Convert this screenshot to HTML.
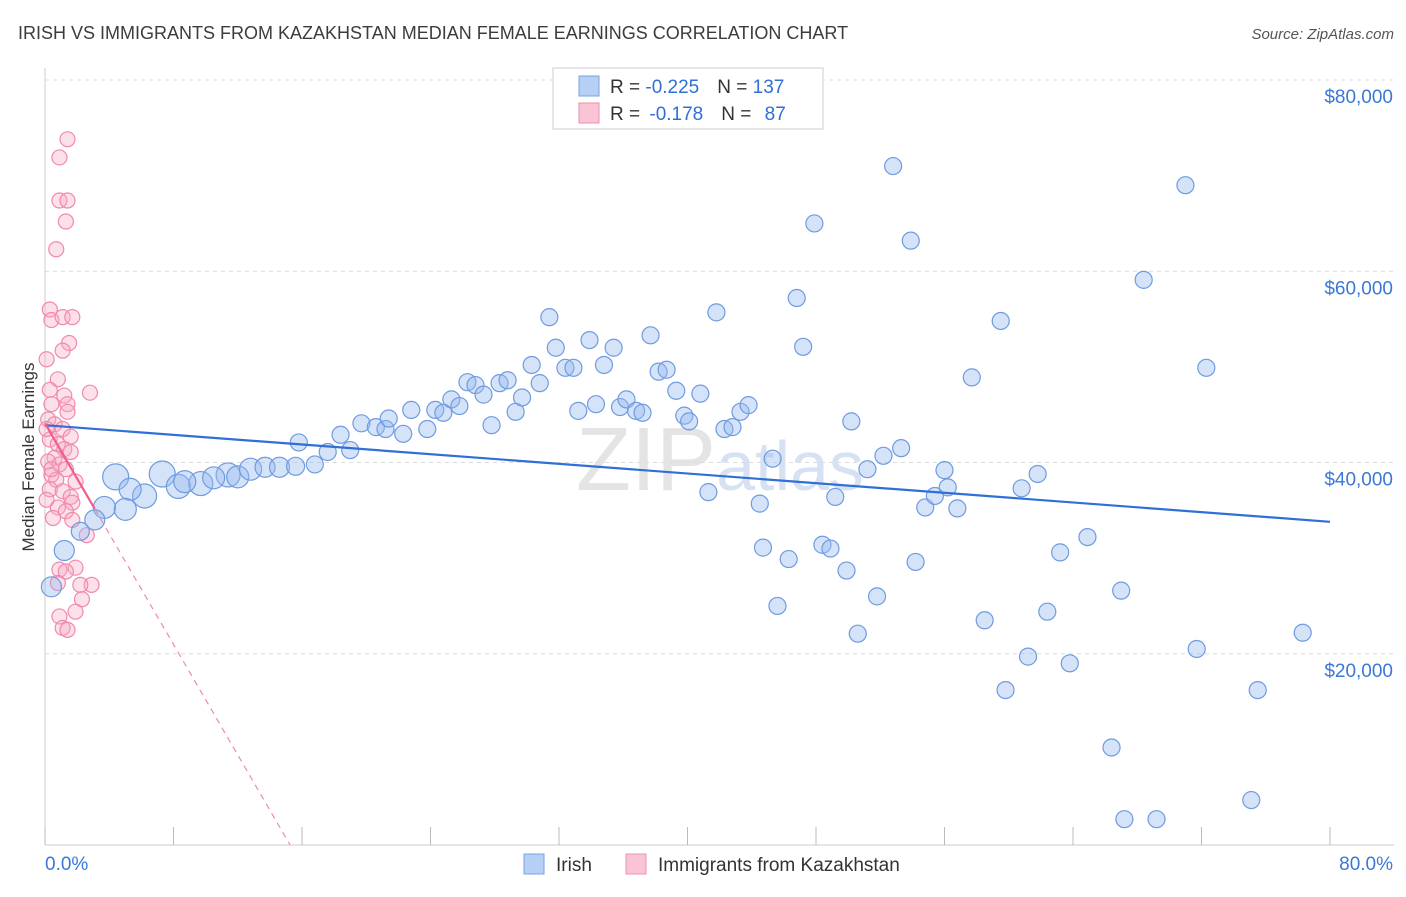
<!DOCTYPE html>
<html><head><meta charset="utf-8">
<style>
body{margin:0;background:#fff;font-family:"Liberation Sans",sans-serif;}
svg text{font-family:"Liberation Sans",sans-serif;}
</style></head>
<body>
<svg id="chart" width="1406" height="892" viewBox="0 0 1406 892" xmlns="http://www.w3.org/2000/svg">
<text x="18" y="39" font-size="18" fill="#3c3c3c">IRISH VS IMMIGRANTS FROM KAZAKHSTAN MEDIAN FEMALE EARNINGS CORRELATION CHART</text>
<text x="1394" y="39" font-size="15" fill="#555" text-anchor="end" font-style="italic">Source: ZipAtlas.com</text>
<text x="720" y="490" font-size="90" fill="#e4e4e4" text-anchor="middle" font-family="Liberation Serif">ZIP<tspan fill="#d6e2f3" font-family="Liberation Sans" font-size="70">atlas</tspan></text>
<g id="grid"></g>
<g id="axes"></g>
<g id="marks"></g>
<text transform="translate(34,457) rotate(-90)" font-size="17" fill="#333" text-anchor="middle">Median Female Earnings</text>
<g>
<rect x="553" y="68" width="270" height="61" fill="#fff" stroke="#ccc"/>
<rect x="579" y="76" width="20" height="20" fill="#b5cff5" stroke="#7aa3e3"/>
<rect x="579" y="103" width="20" height="20" fill="#f9c4d4" stroke="#ee8fae"/>
<text x="610" y="93" font-size="19" fill="#333">R = <tspan fill="#2f6fd6">-0.225</tspan><tspan dx="18">N = </tspan><tspan fill="#2f6fd6">137</tspan></text>
<text x="610" y="120" font-size="19" fill="#333">R = <tspan dx="4" fill="#2f6fd6">-0.178</tspan><tspan dx="18">N = </tspan><tspan dx="8" fill="#2f6fd6">87</tspan></text>
</g>
<g>
<rect x="524" y="854" width="20" height="20" fill="#b5cff5" stroke="#7aa3e3"/>
<text x="556" y="871" font-size="19" fill="#333">Irish</text>
<rect x="626" y="854" width="20" height="20" fill="#f9c4d4" stroke="#ee8fae"/>
<text x="658" y="871" font-size="19" fill="#333">Immigrants from Kazakhstan</text>
</g>
</svg>
<script>
const xTicks=[0,8,16,24,32,40,48,56,64,72,80];
const yTicks=[20000,40000,60000,80000];
const yTickLabels=["$20,000","$40,000","$60,000","$80,000"];
const xEndLabels=["0.0%","80.0%"];
const irishX=[4.4,7.3,6.2,5.3,8.3,9.7,8.7,11.4,12.0,10.5,12.8,13.7,14.6,15.6,3.7,5.0,3.1,1.2,0.4,2.2,15.8,16.8,17.6,18.4,19.0,19.7,20.6,21.2,21.4,22.3,22.8,23.8,24.3,24.8,25.3,25.8,26.3,26.8,27.3,27.8,28.3,28.8,29.3,29.7,30.3,30.8,31.4,31.8,32.4,32.9,33.2,33.9,34.3,34.8,35.4,35.8,36.2,36.8,37.2,37.7,38.2,38.7,39.3,39.8,40.1,40.8,41.3,41.8,42.3,42.8,43.3,43.8,44.5,44.7,45.3,45.6,46.3,46.8,47.2,47.9,48.4,48.9,49.2,49.9,50.2,50.6,51.2,51.8,52.2,52.8,53.3,53.9,54.2,54.8,55.4,56.0,56.2,56.8,57.7,58.5,59.5,59.8,60.8,61.2,61.8,62.4,63.2,63.8,64.9,66.4,67.0,67.2,68.4,69.2,71.0,71.7,72.3,75.1,75.5,78.3];
const irishY=[38.5,38.8,36.5,37.2,37.5,37.8,38.0,38.7,38.5,38.4,39.3,39.5,39.5,39.6,35.3,35.1,34.0,30.8,27.0,32.8,42.1,39.8,41.1,42.9,41.3,44.1,43.7,43.5,44.6,43.0,45.5,43.5,45.5,45.2,46.6,45.9,48.4,48.1,47.1,43.9,48.3,48.6,45.3,46.8,50.2,48.3,55.2,52.0,49.9,49.9,45.4,52.8,46.1,50.2,52.0,45.8,46.6,45.4,45.2,53.3,49.5,49.7,47.5,44.9,44.3,47.2,36.9,55.7,43.5,43.7,45.3,46.0,35.7,31.1,40.4,25.0,29.9,57.2,52.1,65.0,31.4,31.0,36.4,28.7,44.3,22.1,39.3,26.0,40.7,71.0,41.5,63.2,29.6,35.3,36.5,39.2,37.4,35.2,48.9,23.5,54.8,16.2,37.3,19.7,38.8,24.4,30.6,19.0,32.2,10.2,26.6,2.7,59.1,2.7,69.0,20.5,49.9,4.7,16.2,22.2];
const irishSize=[13,13,12,11,12,12,11,12,11,11,11,10,10,9,11,11,10,10,10,9];
const kazX=[1.4,0.9,0.9,1.4,1.3,0.7,0.3,0.4,1.1,1.7,1.5,1.1,0.1,0.8,2.8,0.3,1.2,0.4,1.4,1.4,0.2,0.6,1.1,1.6,0.3,0.8,1.2,0.6,1.6,0.2,0.9,1.3,0.4,0.7,1.9,0.3,1.1,1.6,0.1,1.7,0.8,1.3,0.5,1.7,2.6,0.9,1.9,1.3,2.9,2.2,0.8,2.3,0.9,1.9,1.1,1.4,0.1,0.4];
const kazY=[73.8,71.9,67.4,67.4,65.2,62.3,56.0,54.9,55.2,55.2,52.5,51.7,50.8,48.7,47.3,47.6,47.0,46.1,46.1,45.3,44.5,44.0,43.5,42.7,42.4,41.9,41.4,40.5,41.1,40.1,39.8,39.3,38.7,38.2,38.0,37.2,37.0,36.4,36.1,35.8,35.3,34.9,34.2,34.0,32.4,28.8,29.0,28.6,27.2,27.2,27.4,25.7,23.9,24.4,22.7,22.5,43.5,39.3];
const irishTrend=[43.9,33.8];
const kazTrend=[44.1,-2.89];
const kazSolidEnd=3.1;

const NS="http://www.w3.org/2000/svg";
const X0=45,X1=1330,Y0=845,Y80=80;
const sx=v=>X0+(v/80)*(X1-X0);
const sy=v=>Y0-(v/80000)*(Y0-Y80);
function mk(tag,attrs,parent){const e=document.createElementNS(NS,tag);for(const k in attrs)e.setAttribute(k,attrs[k]);parent.appendChild(e);return e;}
const grid=document.getElementById('grid'),axes=document.getElementById('axes'),marks=document.getElementById('marks');
yTicks.forEach((t,i)=>{
 const l=mk('line',{x1:X0,x2:1394,y1:sy(t),y2:sy(t),stroke:'#dcdcdc','stroke-dasharray':'4,4'},grid);
 
 
 const tx=mk('text',{x:1393,y:sy(t)+23,'font-size':19,fill:'#3a78d8','text-anchor':'end'},axes);
 tx.textContent=yTickLabels[i];
 
 
});
const ax=mk('line',{x1:X0,x2:1394,y1:Y0,y2:Y0,stroke:'#ccc'},axes);


const ay=mk('line',{x1:X0,x2:X0,y1:68,y2:Y0,stroke:'#ccc'},axes);


xTicks.forEach(t=>{
 const l=mk('line',{x1:sx(t),x2:sx(t),y1:Y0,y2:Y0-18,stroke:'#bbb'},axes);
 
 
});
[[0,'start',X0],[1,'end',1393]].forEach(([i,a,x])=>{
 const tx=mk('text',{x:x,y:870,'font-size':19,fill:'#3a78d8','text-anchor':a},axes);
 tx.textContent=xEndLabels[i];
 
 
});
kazX.forEach((x,i)=>{
 const c=mk('circle',{cx:sx(x),cy:sy(kazY[i]*1000),r:7.5,fill:'rgba(246,168,194,0.35)',stroke:'#f08aaa','stroke-width':1.2},marks);
 
 
});
irishX.forEach((x,i)=>{
 const c=mk('circle',{cx:sx(x),cy:sy(irishY[i]*1000),r:irishSize[i]||8.5,fill:'rgba(150,185,240,0.4)',stroke:'#6f9be0','stroke-width':1.2},marks);
 
 
});
const bt=mk('line',{x1:sx(0),y1:sy(irishTrend[0]*1000),x2:sx(80),y2:sy(irishTrend[1]*1000),stroke:'#2f6fd6','stroke-width':2.2},marks);


const kzero=-kazTrend[0]/kazTrend[1];
const kd=mk('line',{x1:sx(kazSolidEnd),y1:sy((kazTrend[0]+kazTrend[1]*kazSolidEnd)*1000),x2:sx(kzero),y2:sy(0),stroke:'#f08aaa','stroke-width':1.2,'stroke-dasharray':'6,5'},marks);


const ks=mk('line',{x1:sx(0),y1:sy(kazTrend[0]*1000),x2:sx(kazSolidEnd),y2:sy((kazTrend[0]+kazTrend[1]*kazSolidEnd)*1000),stroke:'#ee5f8d','stroke-width':2.2},marks);


</script>
</body></html>
